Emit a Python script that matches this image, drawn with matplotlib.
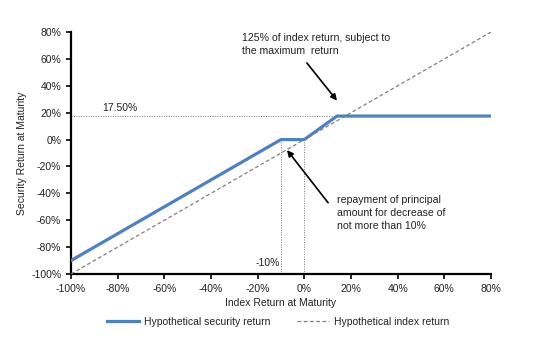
import matplotlib
matplotlib.use("Agg")
import matplotlib.pyplot as plt
from matplotlib.ticker import FuncFormatter

plt.rcParams["font.family"] = ["Liberation Sans", "DejaVu Sans"]
plt.rcParams["font.size"] = 7.5

# payoff breakpoints (index return -> security return), in %
index_pts = [-100, -10, 0, 14, 80]
security_pts = [-90, 0, 0, 17.5, 17.5]
index_line = [-100, 80]
cap_level = 17.5
buffer_level = -10
ticks = [-100, -80, -60, -40, -20, 0, 20, 40, 60, 80]

BLUE = "#4F81BD"
TXT = "#222222"

fig = plt.figure(figsize=(5.56, 3.41), dpi=100)
ax = fig.add_axes([0.1277, 0.1965, 0.7553, 0.7095])

# reference guides
guide = dict(ls=(0, (1, 1.5)), color="#777777", lw=0.7)
ax.plot([index_line[0], index_pts[3]], [cap_level, cap_level], **guide)
ax.plot([buffer_level, buffer_level], [index_line[0], 0], **guide)
ax.plot([0, 0], [index_line[0], 0], **guide)

ax.plot(index_pts, security_pts, color=BLUE, lw=2.3, label="Hypothetical security return", zorder=3)
ax.plot(index_line, index_line, color="#808080", lw=0.9, ls=(0, (3, 2)), label="Hypothetical index return", zorder=4)

ax.set_xlim(-100, 80)
ax.set_ylim(-100, 80)
ax.set_xticks(ticks)
ax.set_yticks(ticks)
pct = FuncFormatter(lambda v, p: f"{v:.0f}%")
ax.xaxis.set_major_formatter(pct)
ax.yaxis.set_major_formatter(pct)
for s in ["top", "right"]:
    ax.spines[s].set_visible(False)
for s in ["left", "bottom"]:
    ax.spines[s].set_linewidth(1.6)
ax.tick_params(width=1.2, length=3.5, colors="black", labelcolor=TXT, labelsize=7.5)

ax.set_xlabel("Index Return at Maturity", color=TXT, fontsize=7.5, labelpad=3)
ax.set_ylabel("Security Return at Maturity", color=TXT, fontsize=7.5, labelpad=3)

ax.text(-86.5, 21, "17.50%", color=TXT, fontsize=7.5)
ax.text(-21, -94, "-10%", color=TXT, fontsize=7.5)

arrow = dict(arrowstyle="-|>", color="black", lw=1.2, shrinkA=0, shrinkB=0, mutation_scale=9)
ax.text(-26.7, 79.5, "125% of index return, subject to\nthe maximum  return",
        color=TXT, fontsize=7.6, va="top", linespacing=1.35)
ax.annotate("", xy=(14, 29), xytext=(1.1, 57), arrowprops=arrow)
ax.text(14, -41.5, "repayment of principal\namount for decrease of\nnot more than 10%",
        color=TXT, fontsize=7.6, va="top", linespacing=1.35)
ax.annotate("", xy=(-7.4, -7.8), xytext=(10.2, -47), arrowprops=arrow)

fig.legend(loc="lower center", bbox_to_anchor=(0.5, 0.015), ncol=2, frameon=False,
           fontsize=7.5, handlelength=3.1, handletextpad=0.4, columnspacing=2.6,
           labelcolor=TXT)

fig.savefig("out.png", dpi=100)
